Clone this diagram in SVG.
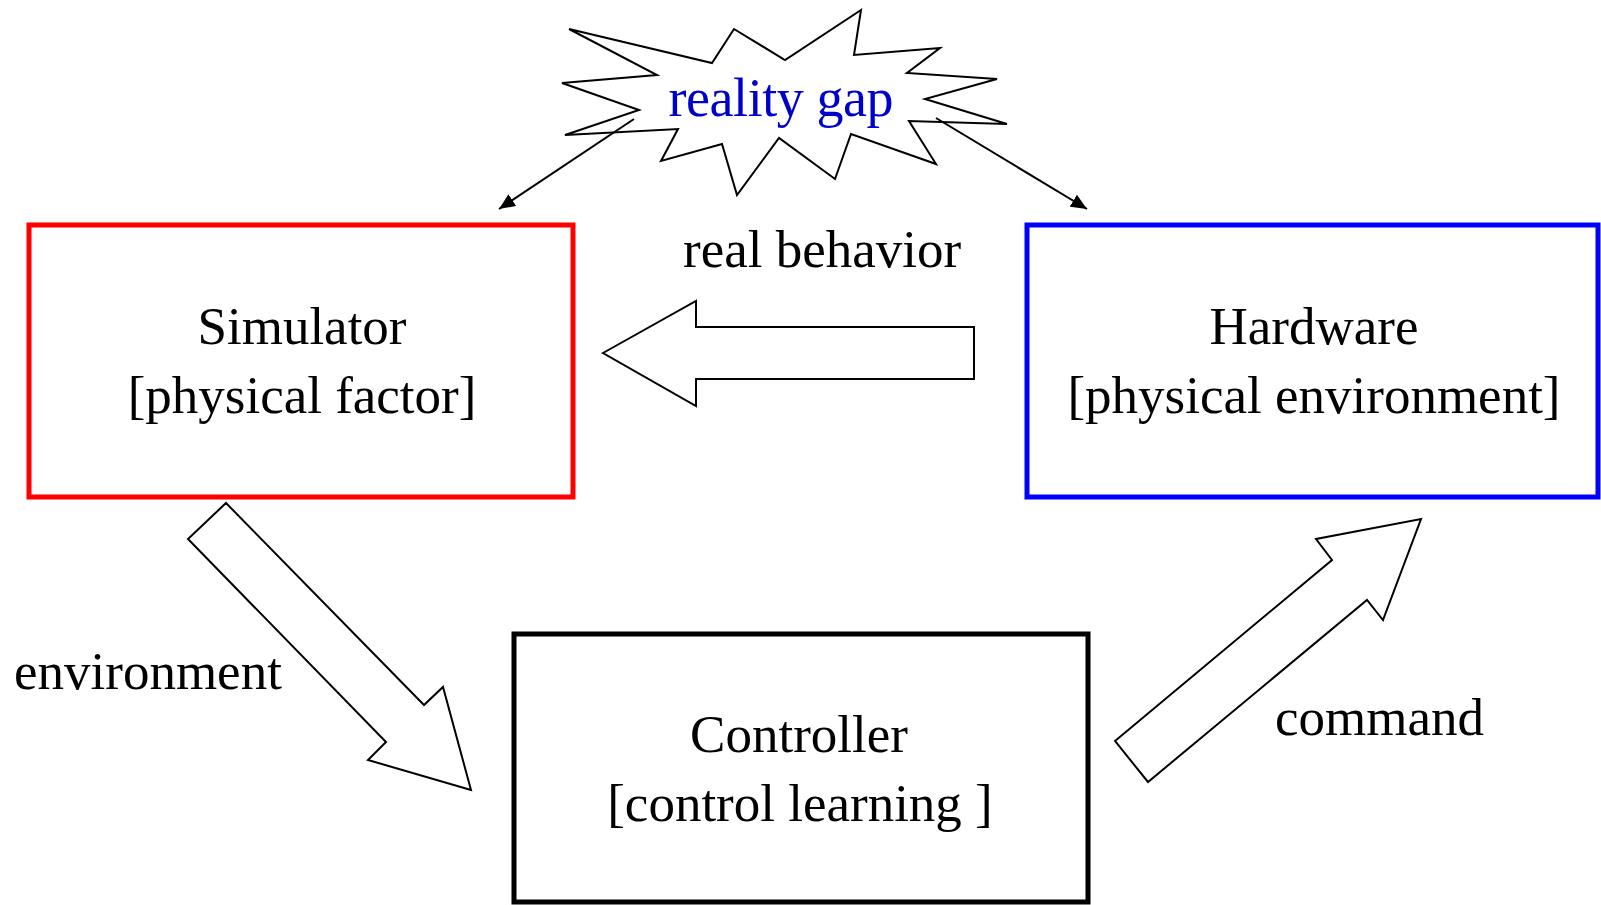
<svg xmlns="http://www.w3.org/2000/svg" width="1601" height="905" viewBox="0 0 1601 905">
<style>
text{font-family:"Liberation Serif","Times New Roman",serif;font-size:53px;fill:#000}
.c{text-anchor:middle}
.box{fill:#fff;stroke-width:5}
.blk{fill:#fff;stroke:#000;stroke-width:2;stroke-linejoin:miter}
.thin{fill:none;stroke:#000;stroke-width:2}
</style>
<defs>
<marker id="ah" markerUnits="userSpaceOnUse" markerWidth="18" markerHeight="14" refX="16" refY="7" orient="auto">
<path d="M0,0 L16,7 L0,14 z" fill="#000"/>
</marker>
</defs>
<rect width="1601" height="905" fill="#fff"/>

<g id="reality-gap">
<polygon class="blk" points="569,29 712,63 734,29 785,60 861,10 854,55 940,48 907,73 997,79 925,99 1007,124 909,121 936,164 851,134 835,179 779,138 737,195 722,144 661,161 678,129 565,135 639,110 562,83 657,75"/>
<text class="c" x="781" y="116" style="fill:#0000cc;font-size:54px" textLength="225" lengthAdjust="spacing">reality gap</text>
</g>

<g id="simulator">
<rect class="box" x="29" y="225" width="544" height="272" stroke="#ff0000"/>
<text class="c" x="302" y="344">Simulator</text>
<text class="c" x="302" y="413">[physical factor]</text>
</g>

<g id="hardware">
<rect class="box" x="1027" y="225" width="571" height="272" stroke="#0000ff"/>
<text class="c" x="1314" y="344">Hardware</text>
<text class="c" x="1314" y="413">[physical environment]</text>
</g>

<g id="controller">
<rect class="box" x="514" y="634" width="574" height="268" stroke="#000"/>
<text class="c" x="799" y="752">Controller</text>
<text class="c" x="800" y="821">[control learning ]</text>
</g>

<g id="connectors">
<line class="thin" x1="634" y1="119" x2="499" y2="209" marker-end="url(#ah)"/>
<line class="thin" x1="936" y1="118" x2="1087" y2="209" marker-end="url(#ah)"/>
<polygon class="blk" points="603,353 696,301 696,327 974,327 974,379 696,379 696,406"/>
<polygon class="blk" points="226,503 424,705 443,687 471,790 368,760 386,742 188,539"/>
<polygon class="blk" points="1115,741 1332,560 1316,539 1421,519 1383,620 1367,600 1148,782"/>
<text x="683" y="267">real behavior</text>
<text x="14" y="689">environment</text>
<text x="1275" y="735">command</text>
</g>
</svg>
